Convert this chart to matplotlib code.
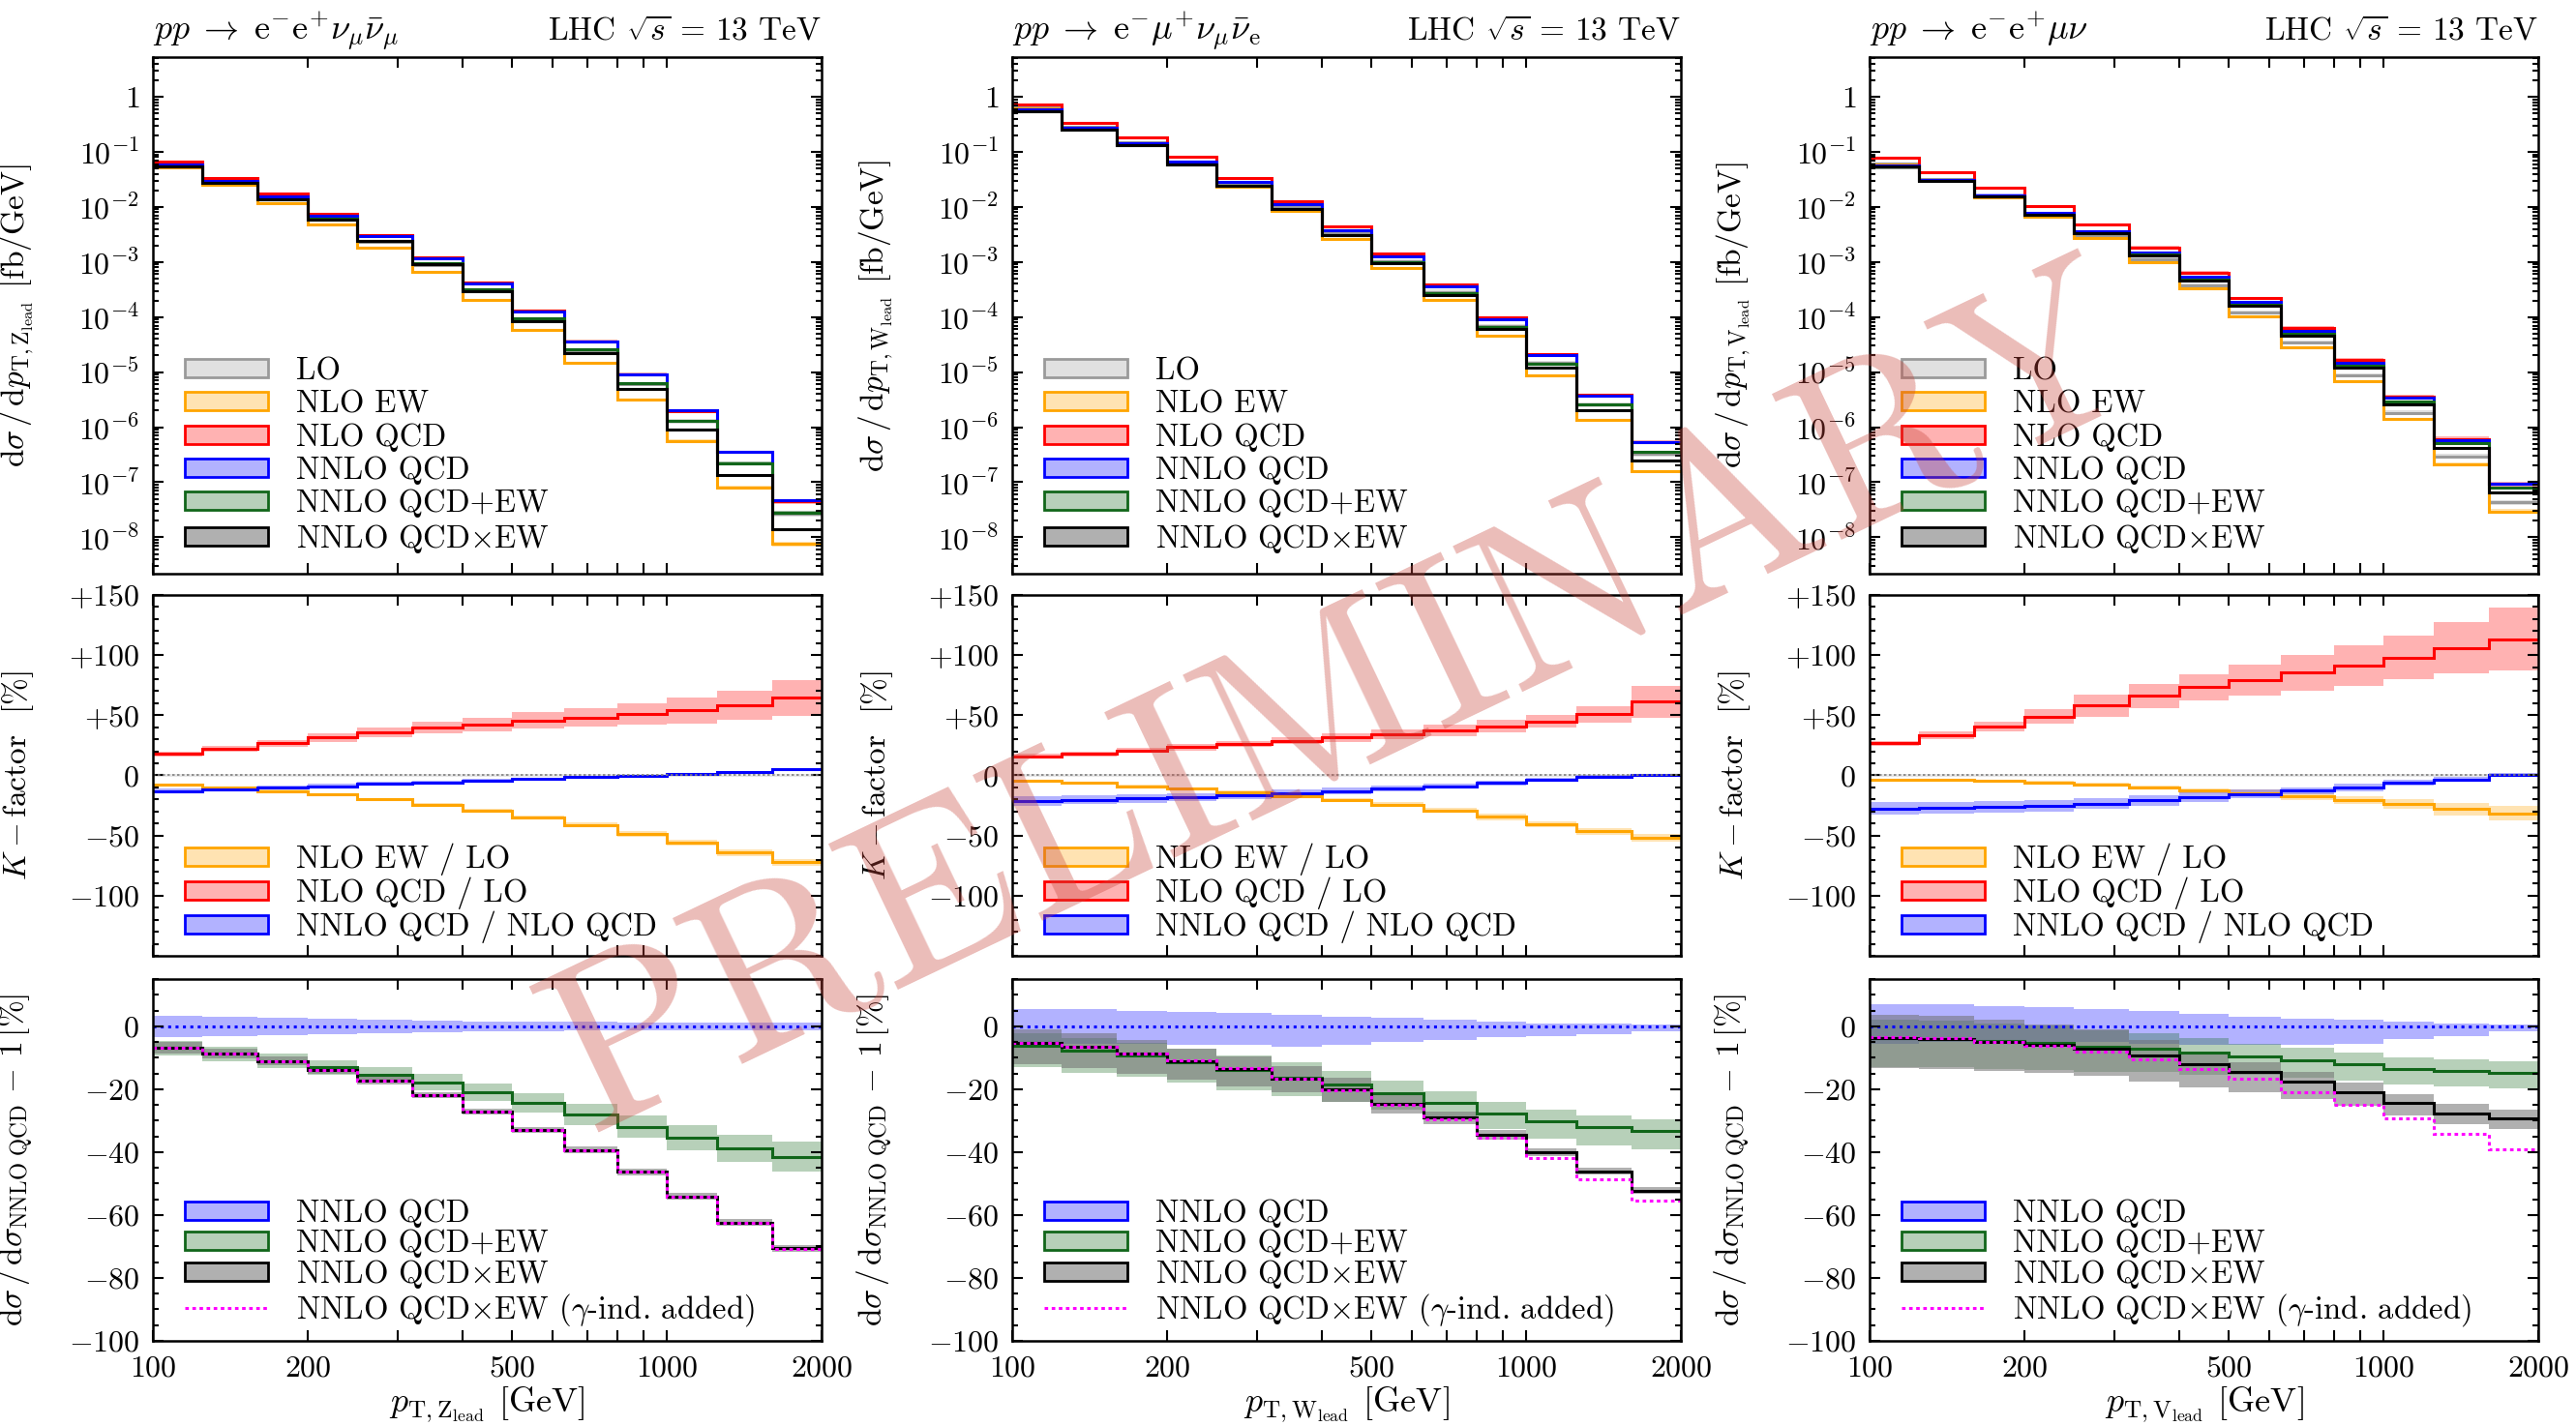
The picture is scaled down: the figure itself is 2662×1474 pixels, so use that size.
import matplotlib
matplotlib.use("Agg")
import matplotlib.pyplot as plt
import numpy as np
from matplotlib.colors import to_rgba
from matplotlib.lines import Line2D
from matplotlib.patches import Patch
from matplotlib.ticker import FixedLocator, FixedFormatter, NullFormatter, LogLocator, MultipleLocator, NullLocator

plt.rcParams['font.family'] = 'serif'
plt.rcParams['font.serif'] = ['cmr10', 'DejaVu Serif']
plt.rcParams['mathtext.fontset'] = 'cm'
plt.rcParams['axes.formatter.use_mathtext'] = True

# bin edges of the leading-boson pT [GeV]
edges = [100, 125, 160, 200, 250, 320, 400, 500, 630, 800, 1000, 1250, 1600, 2000]

# LO scale band [%] (all processes)
lo_unc = [5, 5, 6, 6, 7, 7, 8, 8, 9, 9, 10, 10, 11]

# ---------- pp -> e- e+ nu_mu nu_mu~ (Z lead) ----------
nnlo_zz = [0.058, 0.030, 0.0155, 0.0069, 0.0029, 0.00115, 4.0e-4, 1.25e-4, 3.6e-5, 9.2e-6, 2.0e-6, 3.6e-7, 4.7e-8]
kew_zz = [-8, -10.2, -12.9, -15.6, -19.7, -24.2, -29.1, -35, -41.2, -48.8, -56, -64, -72.2]
kew_unc_zz = [0.8, 0.8, 1, 1, 1.2, 1.3, 1.5, 1.7, 2, 2.2, 2.5, 2.8, 3]
kqcd_zz = [18, 22, 26.7, 31.5, 35.5, 39.6, 42.3, 45.8, 48.2, 50.9, 53.9, 58.5, 64.4]
kqcd_unc_zz = [2, 2.5, 3, 3.5, 4, 5, 5.5, 6.5, 7.5, 9, 10.5, 12, 15]
knn_zz = [-12.9, -11.6, -10.2, -8.9, -6.7, -5.7, -4.3, -3, -1.6, -0.3, 1.3, 2.7, 5.1]
knn_unc_zz = [2, 2, 1.8, 1.7, 1.6, 1.5, 1.4, 1.3, 1.2, 1.1, 1, 1, 1]
nn_up_zz = [3.3, 3, 2.7, 2.4, 2.1, 1.8, 1.6, 1.5, 1.4, 1.3, 1.3, 1.3, 1.3]
nn_dn_zz = [3.3, 3, 2.7, 2.4, 2.1, 1.8, 1.6, 1.5, 1.4, 1.3, 1.3, 1.3, 1.3]
plus_zz = [-6.9, -8.7, -11, -13, -15.4, -17.8, -21, -24.3, -28.1, -31.9, -35.5, -38.8, -41.5]
plus_up_zz = [2.3, 2.3, 2.3, 2.3, 2.4, 2.6, 2.8, 3, 3.3, 3.6, 4, 4.4, 4.8]
plus_dn_zz = [2.3, 2.3, 2.3, 2.3, 2.4, 2.6, 2.8, 3, 3.3, 3.6, 4, 4.4, 4.8]
times_zz = [-6.9, -8.7, -11, -13.8, -17.3, -21.9, -27.1, -33, -39.3, -46.3, -54.1, -62.4, -70.6]
times_up_zz = [1.8, 1.6, 1.4, 1.2, 1.1, 1, 1, 1, 1, 1, 1, 1, 1]
times_dn_zz = [1.8, 1.6, 1.4, 1.2, 1.1, 1, 1, 1, 1, 1, 1, 1, 1]
gam_zz = [-6.9, -8.7, -11, -13.8, -17.3, -21.9, -27.1, -33, -39.3, -46.3, -54.1, -62.4, -70.7]

# ---------- pp -> e- mu+ nu_mu nu_e~ (W lead) ----------
nnlo_ww = [0.58, 0.27, 0.145, 0.066, 0.028, 0.0110, 0.0038, 0.00125, 3.6e-4, 9.2e-5, 2.05e-5, 3.8e-6, 5.3e-7]
kew_ww = [-4.8, -6.2, -8.9, -11, -13.7, -17, -20.2, -24.5, -29.1, -34.5, -40.7, -46.6, -52]
kew_unc_ww = [1, 1, 1, 1.2, 1.3, 1.5, 1.7, 2, 2.2, 2.5, 2.7, 3, 3]
kqcd_ww = [15.9, 18, 20.7, 23.4, 26.1, 28.8, 31.5, 34.2, 37.4, 41, 45, 50.9, 61.2]
kqcd_unc_ww = [2, 2, 2, 2.5, 2.5, 3, 3.5, 4, 4.5, 5, 5.5, 7, 13]
knn_ww = [-21, -20.2, -19.1, -18, -16.4, -14.8, -13.2, -11, -8.9, -6.2, -3.5, -1.3, 0]
knn_unc_ww = [4, 3.8, 3.6, 3.4, 3.2, 3, 2.8, 2.5, 2.2, 2, 1.8, 1.5, 1]
nn_up_ww = [5.6, 5.5, 5, 4.6, 4.1, 3.6, 3.1, 2.6, 2, 1.5, 1, 0.8, 0.5]
nn_dn_ww = [5, 5.5, 5.6, 6, 6, 6.4, 6, 5, 4.5, 3.6, 3, 2.6, 1.5]
plus_ww = [-6.1, -7.7, -9.4, -11.4, -13.8, -16.3, -18.6, -21.4, -24.5, -27.6, -30.1, -32.1, -33.2]
plus_up_ww = [4, 4, 4, 4.2, 4.5, 4.8, 4.5, 4, 3.8, 3.6, 3.6, 3.6, 3.6]
plus_dn_ww = [7, 7, 6.8, 6.5, 6.5, 6, 5.5, 5, 5, 5.2, 5.5, 5.8, 6]
times_ww = [-5.4, -6.6, -8.7, -11, -13.5, -16.6, -20.2, -24.8, -29.1, -34.5, -40.1, -46.1, -52.2]
times_up_ww = [4.4, 4.4, 4.2, 4, 4, 4, 3.9, 3, 2, 1.5, 1.2, 1, 1]
times_dn_ww = [6.8, 6.8, 6.5, 6, 5.5, 4.5, 3.8, 3, 2, 1.5, 1.2, 1, 1]
gam_ww = [-5.3, -6.5, -8.6, -10.9, -13.4, -16.6, -20.3, -25.1, -29.6, -35.5, -41.8, -48.5, -55.3]

# ---------- pp -> e- e+ mu nu (V lead) ----------
nnlo_wz = [0.056, 0.031, 0.0163, 0.0077, 0.0036, 0.00146, 5.3e-4, 1.85e-4, 5.6e-5, 1.5e-5, 3.4e-6, 5.9e-7, 9.3e-8]
kew_wz = [-3.5, -4, -4.8, -5.8, -7.5, -10, -12.5, -14.5, -17.5, -20.5, -24, -28, -31.5]
kew_unc_wz = [1, 1, 1, 1, 1.2, 1.5, 2, 2.5, 3, 3.5, 4, 5, 6]
kqcd_wz = [26.7, 33.2, 40.6, 48.7, 58, 66, 73.3, 79.4, 85.3, 91.5, 98.1, 106.1, 113.4]
kqcd_unc_wz = [2, 3, 4, 6, 9, 10, 11, 13, 15, 17, 18, 21, 26]
knn_wz = [-27.5, -27, -26.2, -25.4, -23.5, -20.9, -18.2, -15.5, -12.8, -10.2, -6.1, -3.5, 0.5]
knn_unc_wz = [5, 5, 5, 5, 4.5, 4.5, 4, 3.5, 3, 3, 2.5, 2, 1.5]
nn_up_wz = [7, 7, 6.5, 6, 5.5, 5, 4, 3, 2.5, 2, 1.5, 1, 0.5]
nn_dn_wz = [5.6, 5, 5, 5, 5, 5.5, 6, 6, 6, 5.5, 4, 3, 1.5]
plus_wz = [-3.9, -4.1, -4.6, -5.4, -6.4, -7.1, -8.4, -9.5, -10.9, -12.2, -13.5, -14.1, -14.8]
plus_up_wz = [6, 6, 5.5, 5.5, 5, 5, 4.5, 4, 4, 3.8, 3.6, 3.6, 3.6]
plus_dn_wz = [9, 9, 9, 8.5, 8, 7.5, 7, 6, 5.5, 5.2, 5, 5, 5]
times_wz = [-3.9, -4.1, -4.9, -5.9, -7.1, -9.4, -12, -14.5, -17.6, -20.9, -24.5, -27.6, -29.4]
times_up_wz = [7.5, 7.5, 7, 6.5, 6, 5, 3.5, 3, 3, 3, 3, 3, 3]
times_dn_wz = [9.4, 9.4, 9.2, 9, 8.8, 8.2, 7.4, 6.5, 5.5, 4.5, 4, 3.5, 3.3]
gam_wz = [-3.6, -3.9, -4.9, -6.1, -8, -10.5, -13.6, -16.8, -20.9, -25, -29.4, -34.2, -39]

titles = [r'$pp \;\rightarrow\; \mathrm{e}^{-}\mathrm{e}^{+}\nu_{\mu}\bar{\nu}_{\mu}$',
          r'$pp \;\rightarrow\; \mathrm{e}^{-}\mu^{+}\nu_{\mu}\bar{\nu}_{\mathrm{e}}$',
          r'$pp \;\rightarrow\; \mathrm{e}^{-}\mathrm{e}^{+}\mu\nu$']
bosons = ['Z', 'W', 'V']

columns = [
    (nnlo_zz, kew_zz, kew_unc_zz, kqcd_zz, kqcd_unc_zz, knn_zz, knn_unc_zz, nn_up_zz, nn_dn_zz,
     plus_zz, plus_up_zz, plus_dn_zz, times_zz, times_up_zz, times_dn_zz, gam_zz),
    (nnlo_ww, kew_ww, kew_unc_ww, kqcd_ww, kqcd_unc_ww, knn_ww, knn_unc_ww, nn_up_ww, nn_dn_ww,
     plus_ww, plus_up_ww, plus_dn_ww, times_ww, times_up_ww, times_dn_ww, gam_ww),
    (nnlo_wz, kew_wz, kew_unc_wz, kqcd_wz, kqcd_unc_wz, knn_wz, knn_unc_wz, nn_up_wz, nn_dn_wz,
     plus_wz, plus_up_wz, plus_dn_wz, times_wz, times_up_wz, times_dn_wz, gam_wz),
]

C_LO, C_EW, C_QCD, C_NN, C_PL, C_TI, C_GA = '#9a9a9a', '#ffa500', '#ff0000', '#0000ff', '#11661a', '#000000', '#ff00ff'
# band fill colour and opacity per prediction
FILL = {C_LO: (C_LO, 0.3), C_EW: (C_EW, 0.3), C_QCD: (C_QCD, 0.3), C_NN: (C_NN, 0.3),
        C_PL: (C_PL, 0.3), C_TI: ('#707070', 0.55)}
FS_TICK = 23
FS_LEG = 23.5
FS_LAB = 24
FS_TIT = 26
LW = 2.2


def band(ax, lo, hi, c):
    fc, al = FILL[c]
    ax.stairs(hi, edges, baseline=lo, fill=True, color=fc, alpha=al, lw=0)


def step(ax, y, c, ls='-', lw=LW):
    ax.stairs(y, edges, color=c, lw=lw, ls=ls, baseline=None)


def patch(c):
    fc, al = FILL[c]
    return Patch(facecolor=to_rgba(fc, al), edgecolor=c, lw=2.0)


def legend(ax, handles, labels, spacing):
    ax.legend(handles, labels, loc='lower left', bbox_to_anchor=(0.048, 0.035), borderaxespad=0,
              borderpad=0, frameon=False, fontsize=FS_LEG, handlelength=2.64, handleheight=0.52,
              handletextpad=0.89, labelspacing=spacing)


def style(ax, bottom_row):
    ax.set_xscale('log')
    ax.set_xlim(100, 2000)
    ax.xaxis.set_major_locator(FixedLocator([100, 200, 300, 400, 500, 600, 700, 800, 900, 1000, 2000]))
    ax.xaxis.set_minor_locator(NullLocator())
    if bottom_row:
        ax.xaxis.set_major_formatter(FixedFormatter(['100', '200', '', '', '500', '', '', '', '', '1000', '2000']))
    else:
        ax.xaxis.set_major_formatter(NullFormatter())
    ax.tick_params(which='both', direction='in', top=True, right=True, width=1.5, labelsize=FS_TICK)
    ax.tick_params(which='major', length=8)
    ax.tick_params(which='minor', length=4)
    ax.tick_params(axis='x', pad=11)
    ax.tick_params(axis='y', pad=10)
    for s in ax.spines.values():
        s.set_linewidth(1.8)


fig = plt.figure(figsize=(26.62, 14.74), dpi=100)
W, H = 2662.0, 1474.0
lefts = [158, 1046, 1932]
aw = 691
rows = [(59, 593), (615, 988), (1012, 1386)]

for ci, col in enumerate(columns):
    (nnlo, kew, kew_u, kqcd, kqcd_u, knn, knn_u, nnu, nnd,
     pl, plu, pld, ti, tiu, tid, ga) = [np.array(v, dtype=float) for v in col]
    nlo_qcd = nnlo / (1 + knn / 100)
    lo = nlo_qcd / (1 + kqcd / 100)
    lou = np.array(lo_unc, dtype=float)
    V = bosons[ci]
    axs = []
    for (t, b) in rows:
        axs.append(fig.add_axes([lefts[ci] / W, 1 - b / H, aw / W, (b - t) / H]))
    a1, a2, a3 = axs
    for a in axs:
        style(a, a is a3)

    # ---- top: absolute distributions ----
    a1.set_yscale('log')
    a1.set_ylim(10 ** -8.66, 10 ** 0.72)
    a1.yaxis.set_major_locator(FixedLocator([10.0 ** -k for k in range(0, 9)]))
    a1.yaxis.set_major_formatter(FixedFormatter(['$1$'] + [r'$10^{-%d}$' % k for k in range(1, 9)]))
    a1.yaxis.set_minor_locator(LogLocator(base=10, subs=np.arange(2, 10), numticks=30))
    a1.yaxis.set_minor_formatter(NullFormatter())
    band(a1, lo * (1 - lou / 100), lo * (1 + lou / 100), C_LO)
    band(a1, lo * (1 + (kew - kew_u) / 100), lo * (1 + (kew + kew_u) / 100), C_EW)
    band(a1, lo * (1 + (kqcd - kqcd_u) / 100), lo * (1 + (kqcd + kqcd_u) / 100), C_QCD)
    band(a1, nnlo * (1 - nnd / 100), nnlo * (1 + nnu / 100), C_NN)
    band(a1, nnlo * (1 + (pl - pld) / 100), nnlo * (1 + (pl + plu) / 100), C_PL)
    band(a1, nnlo * (1 + (ti - tid) / 100), nnlo * (1 + (ti + tiu) / 100), C_TI)
    step(a1, lo, C_LO)
    step(a1, lo * (1 + kew / 100), C_EW)
    step(a1, nlo_qcd, C_QCD)
    step(a1, nnlo, C_NN)
    step(a1, nnlo * (1 + pl / 100), C_PL)
    step(a1, nnlo * (1 + ti / 100), C_TI)
    a1.set_ylabel(r'$\mathrm{d}\sigma\,/\,\mathrm{d}p_{\mathrm{T},\mathrm{%s}_{\mathrm{lead}}}$ [fb/GeV]' % V, fontsize=FS_LAB)
    a1.yaxis.set_label_coords(-0.175, 0.5)
    a1.set_title(titles[ci], loc='left', fontsize=FS_TIT, pad=13)
    a1.set_title(r'LHC $\sqrt{s}$ = 13 TeV', loc='right', fontsize=FS_LAB, pad=13)
    legend(a1, [patch(C_LO), patch(C_EW), patch(C_QCD), patch(C_NN), patch(C_PL), patch(C_TI)],
           ['LO', 'NLO EW', 'NLO QCD', 'NNLO QCD', 'NNLO QCD+EW', r'NNLO QCD$\times$EW'], 0.15)

    # ---- middle: K-factors ----
    a2.set_ylim(-150, 150)
    a2.yaxis.set_major_locator(FixedLocator([-100, -50, 0, 50, 100, 150]))
    a2.yaxis.set_major_formatter(FixedFormatter([r'$-100$', r'$-50$', r'$0$', r'$+50$', r'$+100$', r'$+150$']))
    a2.yaxis.set_minor_locator(MultipleLocator(10))
    a2.axhspan(-1.5, 1.5, color='#b0b0b0', alpha=0.3, lw=0)
    a2.axhline(0, color='#808080', lw=1.2, ls=(0, (1.5, 1.5)))
    band(a2, kew - kew_u, kew + kew_u, C_EW)
    band(a2, kqcd - kqcd_u, kqcd + kqcd_u, C_QCD)
    band(a2, knn - knn_u, knn + knn_u, C_NN)
    step(a2, kew, C_EW)
    step(a2, kqcd, C_QCD)
    step(a2, knn, C_NN)
    a2.set_ylabel(r'$K-$factor  [%]', fontsize=FS_LAB)
    a2.yaxis.set_label_coords(-0.175, 0.5)
    legend(a2, [patch(C_EW), patch(C_QCD), patch(C_NN)],
           ['NLO EW / LO', 'NLO QCD / LO', 'NNLO QCD / NLO QCD'], 0.05)

    # ---- bottom: ratio to NNLO QCD ----
    a3.set_ylim(-100, 15)
    a3.yaxis.set_major_locator(FixedLocator([-100, -80, -60, -40, -20, 0]))
    a3.yaxis.set_major_formatter(FixedFormatter([r'$-100$', r'$-80$', r'$-60$', r'$-40$', r'$-20$', r'$0$']))
    a3.yaxis.set_minor_locator(MultipleLocator(5))
    band(a3, -nnd, nnu, C_NN)
    band(a3, pl - pld, pl + plu, C_PL)
    band(a3, ti - tid, ti + tiu, C_TI)
    step(a3, np.zeros(len(nnlo)), C_NN, ls=(0, (1, 1.5)), lw=2.2)
    step(a3, pl, C_PL)
    step(a3, ti, C_TI)
    step(a3, ga, C_GA, ls=(0, (1.2, 1.2)), lw=2.2)
    a3.set_ylabel(r'$\mathrm{d}\sigma\,/\,\mathrm{d}\sigma_{\mathrm{NNLO\ QCD}}\,-\,1\,$[%]', fontsize=FS_LAB)
    a3.yaxis.set_label_coords(-0.175, 0.5)
    a3.set_xlabel(r'$p_{\mathrm{T},\mathrm{%s}_{\mathrm{lead}}}$ [GeV]' % V, fontsize=FS_TIT, labelpad=2)
    legend(a3, [patch(C_NN), patch(C_PL), patch(C_TI), Line2D([], [], color=C_GA, lw=2.2, ls=(0, (1.2, 1.2)))],
           ['NNLO QCD', 'NNLO QCD+EW', r'NNLO QCD$\times$EW', r'NNLO QCD$\times$EW ($\gamma$-ind. added)'], 0.02)

fig.text(610 / W, 1 - 1170 / H, 'PRELIMINARY', fontsize=175, color='#c8463c', alpha=0.36,
         rotation=25.5, ha='left', va='baseline', rotation_mode='anchor', zorder=10)

fig.savefig('out.png', dpi=100)
